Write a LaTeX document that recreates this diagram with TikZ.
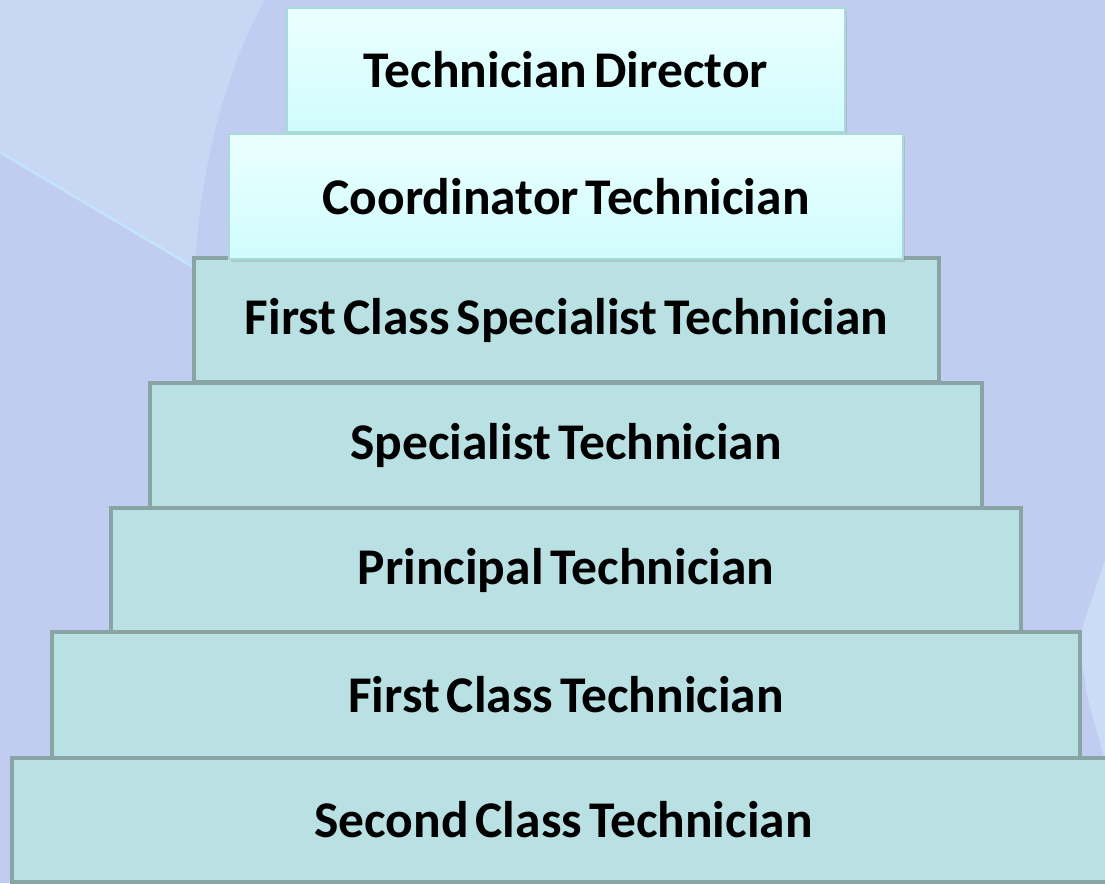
\documentclass[tikz,border=0pt]{standalone}
\usepackage{fontspec}
\setmainfont{Carlito}[WordSpace=0.6]
\usetikzlibrary{shadows}
\definecolor{bgblue}{HTML}{C0CDF0}
\definecolor{bglight}{HTML}{CBDCF6}
\definecolor{bgstreak}{HTML}{C4E2FA}
\definecolor{stepfill}{HTML}{B9E0E3}
\definecolor{stepedge}{HTML}{89A4A5}
\definecolor{toptop}{HTML}{EBFFFF}
\definecolor{topbot}{HTML}{D0FCFD}
\definecolor{topedge}{HTML}{A8DAD8}
\tikzstyle{level}=[draw=stepedge, line width=4pt, fill=stepfill, inner sep=0pt, font=\bfseries\fontsize{51.5}{55}\selectfont]
\tikzstyle{toplevel}=[level, draw=topedge, line width=1.5pt, top color=toptop, bottom color=topbot, drop shadow={shadow xshift=2pt, shadow yshift=-3pt, opacity=0.25}]

\begin{document}
\begin{tikzpicture}[x=1pt, y=-1pt]
        \useasboundingbox (0,0) rectangle (1105,883);
        % background
        \fill[bgblue] (0,0) rectangle (1105,883);
        \fill[bglight, opacity=0.7] (0,0) -- (265,0) .. controls (230,60) and (200,160) .. (195,268) -- (0,150) -- cycle;
        \draw[bgstreak, line width=3pt] (0,152) -- (195,268);
        \fill[bglight] (1105,560) -- (1105,760) -- (1088,700) -- (1078,640) -- cycle;
        % lower steps
        \node[level, minimum width=745pt, minimum height=124pt]  (L3) at (566.5,320) {First Class Specialist Technician};
        \node[level, minimum width=832pt, minimum height=125pt]  (L4) at (566,445.5) {Specialist Technician};
        \node[level, minimum width=910pt, minimum height=124pt]  (L5) at (566,570) {Principal Technician};
        \node[level, minimum width=1028pt, minimum height=126pt] (L6) at (566,695) {First Class Technician};
        \node[level, minimum width=1103pt, minimum height=124pt] (L7) at (563.5,820) {Second Class Technician};
        % top steps
        \node[toplevel, minimum width=558pt, minimum height=124pt] (L1) at (566,70) {Technician Director};
        \node[toplevel, minimum width=674pt, minimum height=125pt] (L2) at (566,196.5) {Coordinator Technician};
\end{tikzpicture}
\end{document}
